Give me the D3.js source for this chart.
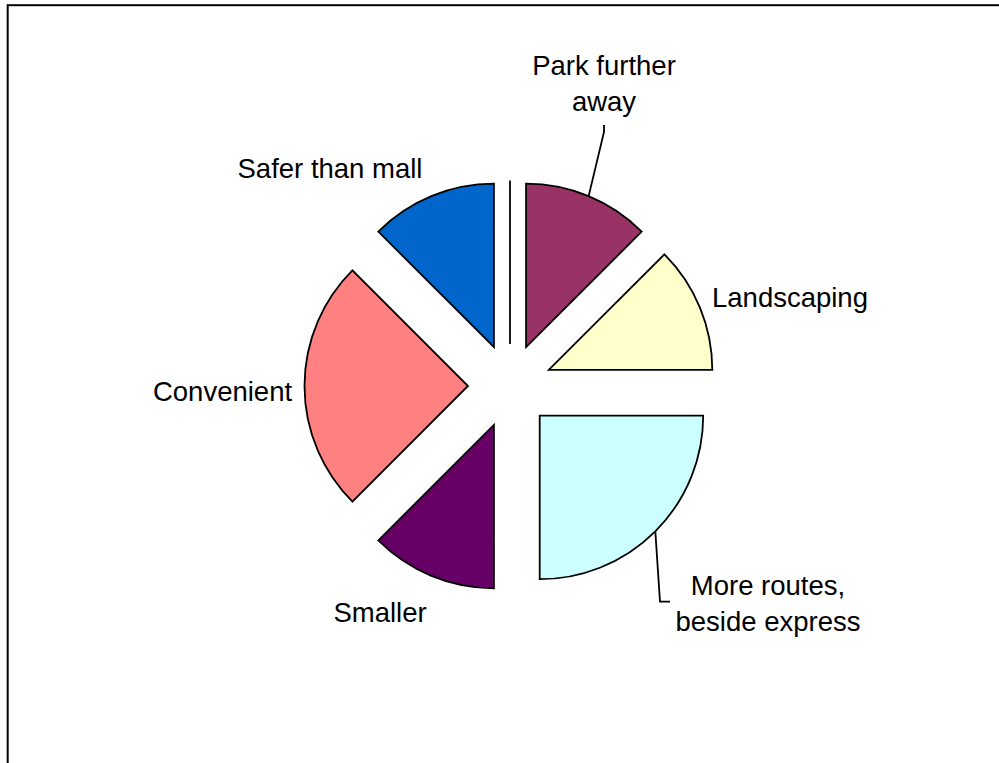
<!DOCTYPE html>
<html>
<head>
<meta charset="utf-8">
<script src="https://cdn.jsdelivr.net/npm/d3@7"></script>
<style>
  html, body { margin: 0; padding: 0; background: #fff; }
  svg { display: block; }
  text { font-family: "Liberation Sans", Arial, sans-serif; font-size: 27.5px; fill: #000; }
</style>
</head>
<body>
<svg id="chart" width="999" height="763"></svg>
<script>
// ---- data ----
const categories = ["Park further away", "Landscaping", "More routes, beside express", "Smaller", "Convenient", "Safer than mall", ""];
const values = [1, 1, 2, 1, 2, 1, 0];
const colors = ["#993366", "#FFFFCC", "#CCFFFF", "#660066", "#FF8080", "#0066CC", "#FFFFFF"];

// ---- layout ----
const W = 999, H = 763;
const cx = 510, cy = 386, R = 163.5, explode = 42;

const svg = d3.select("#chart");

// frame (extends beyond the visible area on right & bottom)
svg.append("rect")
  .attr("x", 7.7).attr("y", 5.2)
  .attr("width", 1200).attr("height", 1000)
  .attr("fill", "none").attr("stroke", "#000").attr("stroke-width", 2);

const data = categories.map((c, i) => ({ cat: c, value: values[i], color: colors[i] }));
const pie = d3.pie().sort(null).value(d => d.value);
const arcs = pie(data);
const arc = d3.arc().innerRadius(0).outerRadius(R);

const g = svg.append("g").attr("transform", `translate(${cx},${cy})`);

function offset(d) {
  const m = (d.startAngle + d.endAngle) / 2;
  return [Math.sin(m) * explode, -Math.cos(m) * explode];
}

g.selectAll("path.slice")
  .data(arcs)
  .join("path")
  .attr("class", "slice")
  .attr("d", arc)
  .attr("transform", d => { const o = offset(d); return `translate(${o[0]},${o[1]})`; })
  .attr("fill", d => d.data.color)
  .attr("stroke", "#000")
  .attr("stroke-width", 1.8)
  .attr("stroke-linejoin", "miter");

// outer-arc midpoint of a slice (in svg coords)
function outerMid(d) {
  const m = (d.startAngle + d.endAngle) / 2;
  const o = offset(d);
  return [cx + o[0] + Math.sin(m) * R, cy + o[1] - Math.cos(m) * R];
}

// label layout: lines, anchor, x, first baseline, line height
const labelLayout = {
  "Park further away": { lines: ["Park further", "away"], anchor: "middle", x: 604, y: 75 },
  "Landscaping": { lines: ["Landscaping"], anchor: "start", x: 712, y: 307 },
  "More routes, beside express": { lines: ["More routes,", "beside express"], anchor: "middle", x: 768, y: 595 },
  "Smaller": { lines: ["Smaller"], anchor: "middle", x: 380, y: 622 },
  "Convenient": { lines: ["Convenient"], anchor: "middle", x: 222.5, y: 401 },
  "Safer than mall": { lines: ["Safer than mall"], anchor: "middle", x: 330, y: 178 }
};
const lineH = 36;

arcs.forEach(d => {
  const L = labelLayout[d.data.cat];
  if (!L) return;
  const t = svg.append("text").attr("text-anchor", L.anchor);
  L.lines.forEach((ln, i) => {
    t.append("tspan").attr("x", L.x).attr("y", L.y + i * lineH).text(ln);
  });
});

// leader lines
const leaders = {
  "Park further away": p => [p, [604, 132], [604, 125]],
  "More routes, beside express": p => [p, [660, 601.7], [670, 601.7]]
};
arcs.forEach(d => {
  const f = leaders[d.data.cat];
  if (!f) return;
  const pts = f(outerMid(d));
  svg.append("path")
    .attr("d", d3.line()(pts))
    .attr("fill", "none").attr("stroke", "#000").attr("stroke-width", 1.8);
});
</script>
</body>
</html>
